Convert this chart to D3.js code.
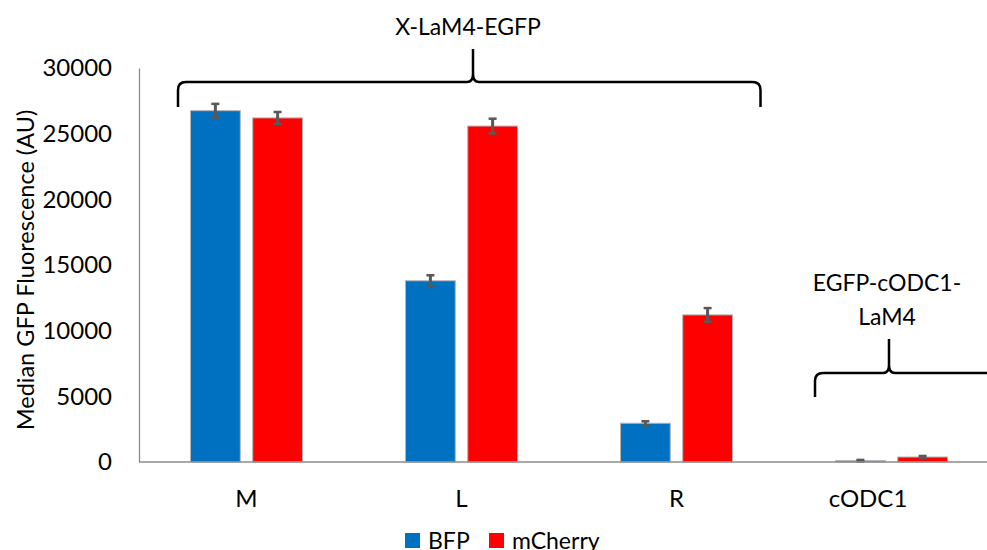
<!DOCTYPE html>
<html>
<head>
<meta charset="utf-8">
<script src="https://cdn.jsdelivr.net/npm/d3@7"></script>
<style>
  body { margin: 0; background: #fff; }
  text { font-family: Lato, "Open Sans", sans-serif; fill: #000; }
</style>
</head>
<body>
<svg id="chart" width="987" height="550"></svg>
<script>
// data
const categories = ['M', 'L', 'R', 'cODC1'];
const seriesNames = ['BFP', 'mCherry'];
const seriesColors = ['#0070C0', '#FF0000'];
const bfpValues = [26750, 13800, 2950, 100];
const bfpErrors = [520, 420, 150, 60];
const mcherryValues = [26200, 25580, 11200, 380];
const mcherryErrors = [450, 560, 520, 80];
const yTicks = [0, 5000, 10000, 15000, 20000, 25000, 30000];

const svg = d3.select('#chart');
const margin = {left: 139, top: 68, bottom: 462};

const x = d3.scaleBand()
    .domain(categories)
    .range([margin.left, margin.left + 4 * 215])
    .paddingInner(0)
    .paddingOuter(0);

const xs = d3.scaleBand()
    .domain(seriesNames)
    .range([x.bandwidth() / 2 - 56, x.bandwidth() / 2 + 56])
    .paddingInner(0.2);

const y = d3.scaleLinear()
    .domain([0, 30000])
    .range([margin.bottom, margin.top]);

const rows = categories.map((c, i) => ({
    cat: c,
    vals: [
        {s: 'BFP', v: bfpValues[i], e: bfpErrors[i]},
        {s: 'mCherry', v: mcherryValues[i], e: mcherryErrors[i]}
    ]
}));

// y axis
const yAxis = svg.append('g')
    .attr('transform', `translate(${margin.left},0)`)
    .call(d3.axisLeft(y).tickValues(yTicks).tickSize(0).tickPadding(27).tickFormat(d3.format('d')));
yAxis.select('.domain').attr('stroke', '#8c8c8c').attr('stroke-width', 1.3);
yAxis.selectAll('text').style('font-size', '24px').style('font-family', 'Lato, sans-serif').attr('fill', '#000');

svg.append('text')
    .attr('transform', `translate(34,270) rotate(-90)`)
    .attr('text-anchor', 'middle')
    .style('font-size', '23.5px')
    .text('Median GFP Fluorescence (AU)');

// bars
const groups = svg.selectAll('.grp')
    .data(rows)
    .join('g')
    .attr('class', 'grp')
    .attr('transform', d => `translate(${x(d.cat)},0)`);

groups.selectAll('rect')
    .data(d => d.vals)
    .join('rect')
    .attr('x', d => xs(d.s))
    .attr('width', xs.bandwidth())
    .attr('y', d => y(d.v))
    .attr('height', d => y(0) - y(d.v))
    .attr('fill', d => seriesColors[seriesNames.indexOf(d.s)])
    .attr('stroke', '#b4b4b4')
    .attr('stroke-width', 1);

// error bars
const err = groups.selectAll('.err')
    .data(d => d.vals)
    .join('g')
    .attr('class', 'err')
    .attr('stroke', '#595959');
err.append('line')
    .attr('x1', d => xs(d.s) + xs.bandwidth() / 2)
    .attr('x2', d => xs(d.s) + xs.bandwidth() / 2)
    .attr('y1', d => y(d.v + d.e))
    .attr('y2', d => y(d.v - d.e))
    .attr('stroke-width', 3);
err.append('line')
    .attr('x1', d => xs(d.s) + xs.bandwidth() / 2 - 4)
    .attr('x2', d => xs(d.s) + xs.bandwidth() / 2 + 4)
    .attr('y1', d => y(d.v + d.e))
    .attr('y2', d => y(d.v + d.e))
    .attr('stroke-width', 2.5);
err.append('line')
    .attr('x1', d => xs(d.s) + xs.bandwidth() / 2 - 4)
    .attr('x2', d => xs(d.s) + xs.bandwidth() / 2 + 4)
    .attr('y1', d => y(d.v - d.e))
    .attr('y2', d => y(d.v - d.e))
    .attr('stroke-width', 2.5);

// baseline
svg.append('line')
    .attr('x1', margin.left).attr('x2', 987)
    .attr('y1', y(0)).attr('y2', y(0))
    .attr('stroke', '#8c8c8c').attr('stroke-width', 1.3);

// category labels
svg.selectAll('.cat')
    .data(categories)
    .join('text')
    .attr('class', 'cat')
    .attr('x', (d, i) => i === categories.length - 1 ? 868 : x(d) + x.bandwidth() / 2)
    .attr('y', 507)
    .attr('text-anchor', 'middle')
    .style('font-size', '24px')
    .text(d => d);

// brackets
function bracket(x0, x1, xm, yh, yb, ytop) {
    const r = 8;
    return `M${x0},${yb} L${x0},${yh + r} Q${x0},${yh} ${x0 + r},${yh} L${xm - 6},${yh} Q${xm},${yh} ${xm},${yh - 8} L${xm},${ytop}` +
        ` M${xm},${yh - 8} Q${xm},${yh} ${xm + 6},${yh} L${x1 - r},${yh} Q${x1},${yh} ${x1},${yh + r} L${x1},${yb}`;
}
svg.append('path')
    .attr('d', bracket(x('M') + 39, x('R') + x.bandwidth() / 2 + 84, 473, 82, 107, 49))
    .attr('fill', 'none').attr('stroke', '#000').attr('stroke-width', 2.5);
svg.append('path')
    .attr('d', bracket(x('cODC1') + 31, 1010, 889, 373, 397, 339))
    .attr('fill', 'none').attr('stroke', '#000').attr('stroke-width', 2.5);

svg.append('text').attr('x', 468).attr('y', 35).attr('text-anchor', 'middle')
    .style('font-size', '23px').text('X-LaM4-EGFP');
svg.append('text').attr('x', 887).attr('y', 291).attr('text-anchor', 'middle')
    .style('font-size', '23px').text('EGFP-cODC1-');
svg.append('text').attr('x', 887).attr('y', 325).attr('text-anchor', 'middle')
    .style('font-size', '23px').text('LaM4');

// legend
const legend = svg.append('g').attr('transform', 'translate(405,533)');
const lx = [0, 84];
seriesNames.forEach((s, i) => {
    legend.append('rect').attr('x', lx[i]).attr('y', 0).attr('width', 15).attr('height', 15)
        .attr('fill', seriesColors[i]);
    legend.append('text').attr('x', lx[i] + 23).attr('y', 15.5).style('font-size', '23px').text(s);
});
</script>
</body>
</html>
